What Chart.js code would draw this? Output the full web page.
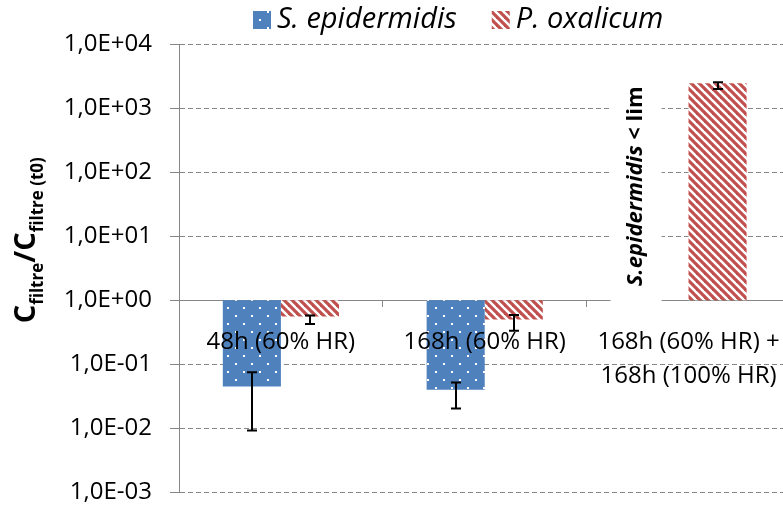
<!DOCTYPE html>
<html lang="fr">
<head>
<meta charset="UTF-8">
<title>Cfiltre / Cfiltre (t0)</title>
<script src="https://cdn.jsdelivr.net/npm/chart.js"></script>
<style>
  body { margin: 0; background: #fff; overflow: hidden; }
  .chart-box { position: relative; width: 800px; height: 506px; }
</style>
</head>
<body>
<div class="chart-box"><canvas id="ratioChart"></canvas></div>
<script>
// conditions
const categories = ['48h (60% HR)', '168h (60% HR)', ['168h (60% HR) +', '168h (100% HR)']];
const seriesNames = ['S. epidermidis', 'P. oxalicum'];

// C filtre / C filtre(t0), mean and error bar ends
const sEpidermidis = [0.045, 0.040, null];
const sEpiHigh = [0.075, 0.052, null];
const sEpiLow = [0.0093, 0.0205, null];
const pOxalicum = [0.56, 0.50, 2450];
const pOxaHigh = [0.58, 0.59, 2540];
const pOxaLow = [0.425, 0.335, 1990];

const tickValues = [1e-3, 1e-2, 1e-1, 1, 1e1, 1e2, 1e3, 1e4];
const tickLabels = ['1,0E-03', '1,0E-02', '1,0E-01', '1,0E+00', '1,0E+01', '1,0E+02', '1,0E+03', '1,0E+04'];

const BASE = 1;
const FONT = '"Open Sans", sans-serif';
const GREY = '#868686';

Chart.defaults.font.family = FONT;
Chart.defaults.color = '#000';

const canvas = document.getElementById('ratioChart');
const ctx0 = canvas.getContext('2d');

// blue fill with white dots
function dotPattern() {
    const t = document.createElement('canvas');
    t.width = 16; t.height = 16;
    const g = t.getContext('2d');
    g.fillStyle = '#4f81bd';
    g.fillRect(0, 0, 16, 16);
    g.fillStyle = '#fff';
    g.fillRect(3, 3, 2, 2);
    g.fillRect(11, 11, 2, 2);
    return ctx0.createPattern(t, 'repeat');
}

// red wide downward diagonal stripes
function stripePattern() {
    const t = document.createElement('canvas');
    t.width = 8; t.height = 8;
    const g = t.getContext('2d');
    g.fillStyle = '#fff';
    g.fillRect(0, 0, 8, 8);
    g.strokeStyle = '#c0504d';
    g.lineWidth = 3.2;
    [-8, 0, 8].forEach(o => {
        g.beginPath();
        g.moveTo(o - 2, -2);
        g.lineTo(o + 10, 10);
        g.stroke();
    });
    return ctx0.createPattern(t, 'repeat');
}

const errorBars = {
    id: 'errorBars',
    afterDatasetsDraw(chart) {
        const ctx = chart.ctx, y = chart.scales.y;
        ctx.save();
        ctx.strokeStyle = '#000';
        ctx.lineWidth = 2;
        chart.data.datasets.forEach((ds, i) => {
            chart.getDatasetMeta(i).data.forEach((bar, j) => {
                if (ds.errHigh[j] == null) return;
                const x = Math.round(bar.x);
                const y1 = y.getPixelForValue(ds.errHigh[j]);
                const y2 = y.getPixelForValue(ds.errLow[j]);
                ctx.beginPath();
                ctx.moveTo(x, y1); ctx.lineTo(x, y2);
                ctx.moveTo(x - 5, y1); ctx.lineTo(x + 5, y1);
                ctx.moveTo(x - 5, y2); ctx.lineTo(x + 5, y2);
                ctx.stroke();
            });
        });
        ctx.restore();
    }
};

const extras = {
    id: 'extras',
    afterDraw(chart) {
        const {ctx, scales: {x, y}} = chart;

        // legend
        ctx.save();
        ctx.font = 'italic 29px ' + FONT;
        ctx.textBaseline = 'middle';
        let lx = 253;
        chart.data.datasets.forEach(ds => {
            ctx.fillStyle = ds.backgroundColor;
            ctx.fillRect(lx, 11, 18, 18);
            ctx.fillStyle = '#000';
            ctx.fillText(ds.label, lx + 24, 20);
            lx += 24 + ctx.measureText(ds.label).width + 35;
        });
        ctx.restore();

        // note in the empty S. epidermidis slot
        const cx = x.getPixelForValue(2) - 53;
        const cy = y.getPixelForValue(60);
        ctx.save();
        ctx.fillStyle = '#fff';
        ctx.fillRect(cx - 25, 70, 51, y.getPixelForValue(BASE) + 4 - 70);
        ctx.translate(cx, cy);
        ctx.rotate(-Math.PI / 2);
        ctx.textBaseline = 'middle';
        ctx.fillStyle = '#000';
        const a = 'S.epidermidis', b = ' < lim';
        ctx.font = 'italic bold 22px ' + FONT;
        const wa = ctx.measureText(a).width;
        ctx.font = 'bold 22px ' + FONT;
        const wb = ctx.measureText(b).width;
        ctx.font = 'italic bold 22px ' + FONT;
        ctx.fillText(a, -(wa + wb) / 2, 0);
        ctx.font = 'bold 22px ' + FONT;
        ctx.fillText(b, -(wa + wb) / 2 + wa, 0);
        ctx.restore();

        // y axis title with subscripts
        const parts = [
            ['C', 29, 0], ['filtre', 17, 8], ['/', 29, 0], ['C', 29, 0], ['filtre (t0)', 17, 8]
        ];
        ctx.save();
        ctx.translate(35, (chart.chartArea.top + chart.chartArea.bottom) / 2 - 28);
        ctx.rotate(-Math.PI / 2);
        ctx.fillStyle = '#000';
        ctx.textBaseline = 'alphabetic';
        let total = 0;
        parts.forEach(p => {
            ctx.font = 'bold ' + p[1] + 'px ' + FONT;
            p.push(ctx.measureText(p[0]).width);
            total += p[3];
        });
        let tx = -total / 2;
        parts.forEach(p => {
            ctx.font = 'bold ' + p[1] + 'px ' + FONT;
            ctx.fillText(p[0], tx, p[2]);
            tx += p[3];
        });
        ctx.restore();
    }
};

const toRange = v => v == null ? null : [BASE, v];

new Chart(canvas, {
    type: 'bar',
    data: {
        labels: categories,
        datasets: [{
            label: seriesNames[0],
            data: sEpidermidis.map(toRange),
            errHigh: sEpiHigh,
            errLow: sEpiLow,
            backgroundColor: dotPattern()
        }, {
            label: seriesNames[1],
            data: pOxalicum.map(toRange),
            errHigh: pOxaHigh,
            errLow: pOxaLow,
            backgroundColor: stripePattern()
        }]
    },
    options: {
        responsive: true,
        maintainAspectRatio: false,
        animation: false,
        layout: { padding: { top: 44, right: 8, bottom: 13.5, left: 0 } },
        datasets: { bar: { barPercentage: 1, categoryPercentage: 0.57, borderWidth: 0 } },
        plugins: { legend: { display: false }, tooltip: { enabled: false } },
        scales: {
            x: {
                position: { y: BASE },
                offset: true,
                grid: { drawOnChartArea: false, offset: true, tickLength: 6, color: GREY, tickColor: GREY },
                border: { color: GREY, width: 1 },
                ticks: { z: 1, font: { size: 24, lineHeight: 1.4 }, padding: 19, maxRotation: 0, autoSkip: false }
            },
            y: {
                type: 'logarithmic',
                min: 1e-3,
                max: 1e4,
                afterBuildTicks: s => { s.ticks = tickValues.map(v => ({ value: v })); },
                afterFit: s => {
                    s.width = 179;
                    s.paddingTop = 14;
                    s.paddingBottom = 13;
                },
                ticks: {
                    font: { size: 24 },
                    padding: 18,
                    callback: v => tickLabels[tickValues.indexOf(v)]
                },
                grid: { color: GREY, tickLength: 9, tickColor: GREY, tickBorderDash: [] },
                border: { color: GREY, width: 1, dash: [5, 3] }
            }
        }
    },
    plugins: [errorBars, extras]
});
</script>
</body>
</html>
